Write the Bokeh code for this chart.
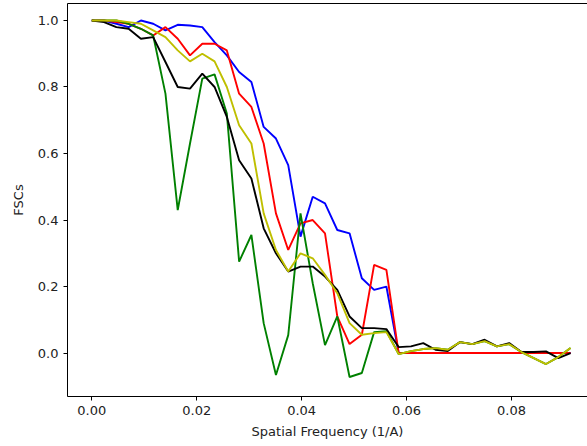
from bokeh.plotting import figure
from bokeh.models import Range1d, FixedTicker, LinearAxis, CustomJSTickFormatter
from bokeh.embed import file_html
from bokeh.resources import INLINE

freq = [0.0, 0.00234, 0.00468, 0.00702, 0.00936, 0.01170, 0.01404, 0.01638, 0.01872, 0.02106,
        0.02340, 0.02574, 0.02808, 0.03042, 0.03276, 0.03510, 0.03744, 0.03978, 0.04211, 0.04445,
        0.04679, 0.04913, 0.05147, 0.05381, 0.05615, 0.05849, 0.06083, 0.06317, 0.06551, 0.06785,
        0.07019, 0.07253, 0.07487, 0.07721, 0.07955, 0.08189, 0.08423, 0.08657, 0.08891, 0.09125]

fsc_blue = [1.0, 1.0, 0.99, 0.98, 1.0, 0.99, 0.97, 0.987, 0.985, 0.98,
            0.935, 0.895, 0.845, 0.815, 0.68, 0.645, 0.565, 0.35, 0.47, 0.45,
            0.37, 0.36, 0.225, 0.19, 0.20, 0.0, 0.0, 0.0, 0.0, 0.0,
            0.0, 0.0, 0.0, 0.0, 0.0, 0.0, 0.0, 0.0, 0.0, 0.0]

fsc_red = [1.0, 1.0, 0.995, 0.99, 0.975, 0.955, 0.98, 0.945, 0.895, 0.93,
           0.93, 0.91, 0.78, 0.74, 0.63, 0.42, 0.31, 0.39, 0.40, 0.36,
           0.11, 0.027, 0.055, 0.265, 0.25, 0.0, 0.0, 0.0, 0.0, 0.0,
           0.0, 0.0, 0.0, 0.0, 0.0, 0.0, 0.0, 0.0, 0.0, 0.0]

fsc_green = [1.0, 1.0, 1.0, 0.99, 0.975, 0.955, 0.78, 0.43, 0.63, 0.825,
             0.838, 0.72, 0.275, 0.355, 0.09, -0.066, 0.054, 0.42, 0.21, 0.024,
             0.11, -0.072, -0.06, 0.063, 0.066, -0.003, 0.006, 0.012, 0.015, 0.01,
             0.033, 0.027, 0.036, 0.02, 0.027, 0.003, -0.015, -0.033, -0.012, 0.015]

fsc_black = [1.0, 0.995, 0.98, 0.975, 0.945, 0.95, 0.875, 0.80, 0.795, 0.84,
             0.80, 0.71, 0.58, 0.525, 0.375, 0.30, 0.245, 0.26, 0.26, 0.23,
             0.19, 0.11, 0.075, 0.075, 0.072, 0.018, 0.02, 0.03, 0.01, 0.006,
             0.033, 0.027, 0.04, 0.02, 0.03, 0.003, 0.003, 0.005, -0.015, 0.0]

fsc_yellow = [1.0, 1.0, 1.0, 0.995, 0.99, 0.97, 0.95, 0.91, 0.877, 0.90,
              0.877, 0.80, 0.685, 0.63, 0.42, 0.31, 0.245, 0.30, 0.285, 0.235,
              0.18, 0.09, 0.055, 0.06, 0.063, -0.003, 0.006, 0.012, 0.015, 0.01,
              0.033, 0.027, 0.036, 0.02, 0.027, 0.003, -0.015, -0.033, -0.012, 0.015]

x_ticks = [0.0, 0.02, 0.04, 0.06, 0.08]
y_ticks = [0.0, 0.2, 0.4, 0.6, 0.8, 1.0]

series = [(fsc_blue, "#0000ff"), (fsc_red, "#ff0000"), (fsc_green, "#008000"),
          (fsc_black, "#000000"), (fsc_yellow, "#bfbf00")]

FONT = "DejaVu Sans"

p = figure(width=587, height=446, output_backend="svg", toolbar_location=None,
           x_range=Range1d(-0.00463, 0.09448), y_range=Range1d(-0.1306, 1.051),
           min_border_left=67, min_border_right=0, min_border_top=3, min_border_bottom=50)
p.outline_line_color = None
p.grid.visible = False
p.background_fill_color = "white"
p.border_fill_color = "white"

for ys, c in series:
    p.line(freq, ys, line_color=c, line_width=1.9)

for ax, ticks, fmt in ((p.xaxis[0], x_ticks, "return tick.toFixed(2);"),
                       (p.yaxis[0], y_ticks, "return tick.toFixed(1);")):
    ax.ticker = FixedTicker(ticks=ticks)
    ax.formatter = CustomJSTickFormatter(code=fmt)
    ax.minor_tick_line_color = None
    ax.major_tick_in = 0
    ax.major_tick_out = 4
    ax.major_tick_line_color = "black"
    ax.axis_line_color = "black"
    ax.major_label_text_font = FONT
    ax.major_label_text_font_size = "13px"
    ax.major_label_text_color = "#222222"
    ax.axis_label_text_font = FONT
    ax.axis_label_text_font_size = "13px"
    ax.axis_label_text_font_style = "normal"
    ax.axis_label_text_color = "#222222"

p.xaxis.axis_label = "Spatial Frequency (1/A)"
p.yaxis.axis_label = "FSCs"
p.xaxis.major_label_standoff = 5
p.xaxis.axis_label_standoff = 6
p.yaxis.major_label_standoff = 5
p.yaxis.axis_label_standoff = 9

top = LinearAxis(ticker=FixedTicker(ticks=[]), major_tick_out=0, major_tick_in=0,
                 minor_tick_out=0, minor_tick_in=0, major_label_text_font_size="0px",
                 axis_line_color="black")
p.add_layout(top, "above")

open("out.html", "w").write(file_html(p, INLINE))
